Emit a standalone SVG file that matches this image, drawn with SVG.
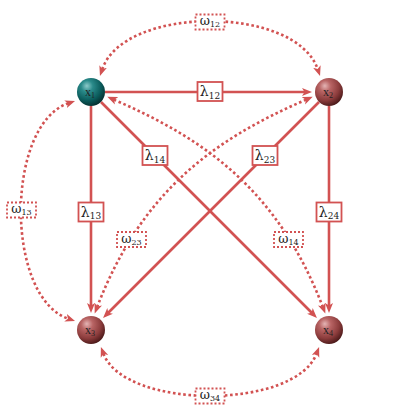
<svg xmlns="http://www.w3.org/2000/svg" width="420" height="420" viewBox="0 0 420 420">
<defs>
<style>
.e{fill:none;stroke:#d25252;stroke-width:2.6;}
.d{fill:none;stroke:#d25252;stroke-width:2.6;stroke-dasharray:2.6 2.6;}
.lb{fill:#fff;stroke:#d25252;stroke-width:1.8;}
.lbd{fill:#fff;stroke:#d25252;stroke-width:1.8;stroke-dasharray:2 2;}
.t{font-family:"DejaVu Serif","Liberation Serif",serif;font-size:14px;fill:#222;text-anchor:middle;}
.w{font-family:"DejaVu Serif","Liberation Serif",serif;font-size:12.5px;fill:#222;text-anchor:middle;}
.s{font-size:9px;}
.ws{font-size:8px;}
.n{font-family:"Liberation Serif","DejaVu Serif",serif;font-size:12px;fill:#222;text-anchor:middle;}
.ns{font-size:8px;}
</style>
<marker id="ah" markerUnits="userSpaceOnUse" markerWidth="12" markerHeight="10" refX="3" refY="5" orient="auto-start-reverse">
<path d="M0,1 L10,5 L0,9 L2.5,5 z" fill="#d25252"/>
</marker>
<radialGradient id="gt" cx="0.38" cy="0.32" r="0.7" fx="0.35" fy="0.28">
<stop offset="0" stop-color="#8ccaca"/>
<stop offset="0.3" stop-color="#2a8a8a"/>
<stop offset="0.7" stop-color="#0b5c5c"/>
<stop offset="1" stop-color="#063030"/>
</radialGradient>
<radialGradient id="gr" cx="0.38" cy="0.32" r="0.7" fx="0.35" fy="0.28">
<stop offset="0" stop-color="#e4b4b4"/>
<stop offset="0.3" stop-color="#b86464"/>
<stop offset="0.7" stop-color="#8c3c3c"/>
<stop offset="1" stop-color="#4c1a1a"/>
</radialGradient>
</defs>
<rect width="420" height="420" fill="#fff"/>
<g id="connectors">
<line class="e" x1="105" y1="92" x2="305" y2="92" marker-end="url(#ah)"/>
<line class="e" x1="91" y1="106" x2="91" y2="306" marker-end="url(#ah)"/>
<line class="e" x1="329" y1="106" x2="329" y2="306" marker-end="url(#ah)"/>
<line class="e" x1="101" y1="102" x2="312" y2="313" marker-end="url(#ah)"/>
<line class="e" x1="319" y1="102" x2="108" y2="313" marker-end="url(#ah)"/>
<path class="d" d="M102.2,69.4 C124,5 296,5 317.8,69.4" marker-start="url(#ah)" marker-end="url(#ah)"/>
<path class="d" d="M68.4,103.2 C5,125 5,297 68.4,318.8" marker-start="url(#ah)" marker-end="url(#ah)"/>
<path class="d" d="M103.4,353.6 C125,410 295,410 316.6,353.6" marker-start="url(#ah)" marker-end="url(#ah)"/>
<path class="d" d="M113.7,99.6 C208,140 279,193 322.8,306.9" marker-start="url(#ah)" marker-end="url(#ah)"/>
<path class="d" d="M306.3,99.6 C212,140 141,193 97.2,306.9" marker-start="url(#ah)" marker-end="url(#ah)"/>
<g id="l12"><rect class="lb" x="197.5" y="82" width="25" height="19"/><text class="t" x="210" y="96">λ<tspan class="s" dy="2.5">12</tspan></text></g>
<g id="l13"><rect class="lb" x="78.5" y="202.5" width="25" height="19"/><text class="t" x="91" y="216.5">λ<tspan class="s" dy="2.5">13</tspan></text></g>
<g id="l24"><rect class="lb" x="316.5" y="202.5" width="25" height="19"/><text class="t" x="329" y="216.5">λ<tspan class="s" dy="2.5">24</tspan></text></g>
<g id="l14"><rect class="lb" x="142.5" y="146" width="25" height="19"/><text class="t" x="155" y="160">λ<tspan class="s" dy="2.5">14</tspan></text></g>
<g id="l23"><rect class="lb" x="252.5" y="146" width="25" height="19"/><text class="t" x="265" y="160">λ<tspan class="s" dy="2.5">23</tspan></text></g>
<g id="w12"><rect class="lbd" x="195.5" y="14.5" width="29" height="15"/><text class="w" x="210" y="25">ω<tspan class="ws" dy="2">12</tspan></text></g>
<g id="w13"><rect class="lbd" x="7" y="202.5" width="29" height="15"/><text class="w" x="21.5" y="213">ω<tspan class="ws" dy="2">13</tspan></text></g>
<g id="w34"><rect class="lbd" x="195.5" y="388.5" width="29" height="15"/><text class="w" x="210" y="399">ω<tspan class="ws" dy="2">34</tspan></text></g>
<g id="w23"><rect class="lbd" x="117" y="232" width="29" height="15"/><text class="w" x="131.5" y="242.5">ω<tspan class="ws" dy="2">23</tspan></text></g>
<g id="w14"><rect class="lbd" x="274" y="232" width="29" height="15"/><text class="w" x="288.5" y="242.5">ω<tspan class="ws" dy="2">14</tspan></text></g>
</g>
<g id="x1"><circle cx="91" cy="92" r="14" fill="url(#gt)"/><text class="n" x="90" y="96">x<tspan class="ns" dy="2">1</tspan></text></g>
<g id="x2"><circle cx="329" cy="92" r="14" fill="url(#gr)"/><text class="n" x="328" y="96">x<tspan class="ns" dy="2">2</tspan></text></g>
<g id="x3"><circle cx="91" cy="330" r="14" fill="url(#gr)"/><text class="n" x="90" y="334">x<tspan class="ns" dy="2">3</tspan></text></g>
<g id="x4"><circle cx="329" cy="330" r="14" fill="url(#gr)"/><text class="n" x="328" y="334">x<tspan class="ns" dy="2">4</tspan></text></g>
</svg>
